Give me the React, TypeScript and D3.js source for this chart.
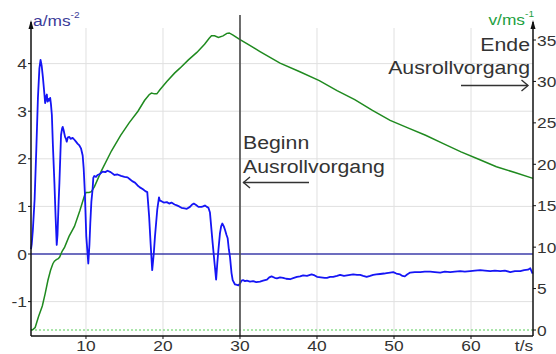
import React from 'react';
import * as d3 from 'd3';

// acceleration a (m/s²) over time t (s)
const accT = [2.86, 2.95, 3.1, 3.33, 3.55, 3.76, 3.95, 4.1, 4.25, 4.4, 4.55, 4.7, 4.8, 4.92, 5.0, 5.1, 5.2, 5.35, 5.45, 5.57, 5.7, 5.9, 6.05, 6.2, 6.3, 6.45, 6.55, 6.76, 6.9, 6.98, 7.1, 7.28, 7.4, 7.5, 7.65, 7.84, 8.0, 8.27, 8.5, 8.7, 8.9, 9.14, 9.35, 9.57, 9.7, 9.85, 10.04, 10.3, 10.45, 10.56, 10.7, 10.86, 10.95, 11.08, 11.3, 11.5, 11.8, 12.15, 12.5, 12.8, 13.2, 13.7, 14.1, 14.55, 15.0, 15.4, 15.7, 16.0, 16.36, 16.7, 17.0, 17.4, 17.7, 17.96, 18.2, 18.4, 18.6, 18.8, 18.96, 19.26, 19.48, 19.6, 19.8, 20.1, 20.5, 20.8, 21.1, 21.5, 21.8, 22.1, 22.4, 22.8, 23.1, 23.5, 23.8, 24.0, 24.3, 24.6, 25.0, 25.2, 25.45, 25.7, 25.9, 26.1, 26.45, 26.7, 26.9, 27.05, 27.2, 27.4, 27.55, 27.7, 27.9, 28.05, 28.25, 28.4, 28.55, 28.7, 28.9, 29.05, 29.35, 29.6, 29.8, 30.0, 30.2, 30.4, 30.65, 30.9, 31.3, 31.7, 32.1, 32.6, 33.0, 33.5, 33.8, 34.1, 34.5, 34.8, 35.2, 35.6, 36.0, 36.5, 37.0, 37.4, 37.8, 38.2, 38.7, 39.3, 39.7, 40.0, 40.5, 41.0, 41.3, 41.7, 42.1, 42.6, 43.0, 43.5, 43.9, 44.3, 44.7, 45.2, 45.6, 46.0, 46.45, 46.9, 47.3, 47.7, 48.2, 48.7, 49.05, 49.5, 49.9, 50.3, 50.8, 51.1, 51.4, 51.7, 52.1, 52.7, 53.4, 54.0, 54.7, 55.3, 56.0, 56.6, 57.3, 57.9, 58.6, 59.2, 59.9, 60.5, 61.2, 61.8, 62.5, 63.1, 63.8, 64.4, 65.1, 65.7, 66.4, 66.9, 67.4, 67.7, 68.0];
const accA = [0.1, 0.2, 0.5, 1.15, 2.2, 3.28, 3.9, 4.08, 3.95, 3.72, 3.45, 3.17, 3.3, 3.35, 3.2, 3.26, 3.22, 3.28, 3.15, 2.92, 2.3, 1.5, 0.8, 0.19, 0.4, 1.1, 1.5, 2.5, 2.64, 2.67, 2.6, 2.46, 2.42, 2.36, 2.45, 2.46, 2.42, 2.44, 2.4, 2.36, 2.32, 2.28, 2.22, 2.07, 1.8, 1.3, 0.37, -0.2, 0.2, 0.65, 1.1, 1.36, 1.6, 1.64, 1.62, 1.66, 1.68, 1.73, 1.72, 1.75, 1.72, 1.66, 1.67, 1.64, 1.62, 1.61, 1.57, 1.53, 1.5, 1.44, 1.4, 1.36, 1.32, 1.3, 0.79, 0.2, -0.34, 0.0, 0.37, 0.94, 1.19, 1.12, 1.11, 1.08, 1.09, 1.06, 1.08, 1.04, 1.02, 1.0, 0.97, 0.96, 0.95, 0.99, 1.04, 1.06, 1.03, 0.99, 0.99, 1.0, 1.02, 0.99, 0.97, 0.87, 0.23, -0.2, -0.54, -0.2, 0.09, 0.44, 0.58, 0.64, 0.58, 0.51, 0.4, 0.33, 0.1, -0.06, -0.4, -0.55, -0.64, -0.65, -0.66, -0.62, -0.56, -0.55, -0.57, -0.56, -0.58, -0.57, -0.59, -0.58, -0.56, -0.54, -0.49, -0.47, -0.5, -0.51, -0.49, -0.5, -0.52, -0.53, -0.5, -0.48, -0.47, -0.45, -0.46, -0.43, -0.45, -0.48, -0.49, -0.5, -0.5, -0.48, -0.48, -0.46, -0.44, -0.46, -0.45, -0.44, -0.43, -0.44, -0.44, -0.46, -0.48, -0.46, -0.44, -0.43, -0.42, -0.41, -0.4, -0.39, -0.38, -0.41, -0.43, -0.46, -0.47, -0.43, -0.39, -0.38, -0.38, -0.37, -0.37, -0.38, -0.39, -0.37, -0.38, -0.37, -0.36, -0.37, -0.36, -0.35, -0.34, -0.35, -0.36, -0.35, -0.36, -0.35, -0.38, -0.36, -0.36, -0.34, -0.33, -0.3, -0.41];

// velocity v (m/s) over time t (s)
const velT = [2.86, 3.1, 3.4, 3.83, 4.33, 4.7, 5.06, 5.4, 5.7, 5.9, 6.15, 6.4, 6.58, 6.9, 7.23, 7.8, 8.5, 9.2, 9.8, 10.0, 10.4, 10.7, 11.1, 12.0, 13.3, 14.5, 15.6, 16.75, 17.6, 18.2, 18.5, 18.9, 19.2, 19.6, 20.5, 21.5, 22.2, 23.3, 24.4, 25.4, 26.0, 26.3, 26.7, 27.2, 27.8, 28.3, 28.6, 29.1, 29.9, 31.0, 32.6, 35.2, 37.7, 40.3, 42.6, 44.9, 47.2, 49.5, 51.8, 54.1, 56.4, 58.7, 61.0, 63.3, 65.7, 68.05];
const velV = [0, 0.05, 0.3, 1.6, 2.9, 4.4, 6.0, 7.2, 8.0, 8.3, 8.5, 8.6, 8.8, 9.5, 10.0, 11.3, 12.5, 14.4, 16.2, 16.6, 16.6, 16.7, 17.3, 19.2, 21.6, 23.5, 25.0, 26.4, 27.7, 28.4, 28.6, 28.5, 28.5, 29.0, 30.0, 31.0, 31.6, 32.6, 33.5, 34.5, 35.2, 35.5, 35.5, 35.3, 35.5, 35.8, 35.85, 35.6, 35.1, 34.5, 33.6, 32.2, 31.2, 30.1, 28.9, 27.8, 26.5, 25.3, 24.4, 23.5, 22.5, 21.5, 20.6, 19.7, 19.0, 18.3];

const tTicks = [10, 20, 30, 40, 50, 60];
const aTicks = [-1, 0, 1, 2, 3, 4];
const vTicks = [0, 5, 10, 15, 20, 25, 30, 35];
const tMarker = 30;

const W = 556, H = 354;
const left = 31, right = 533, top = 28, bottom = 336;
const SX = 1.12;
const FONT = '"Liberation Sans", Arial, sans-serif';

const x = d3.scaleLinear().domain([2.86, 68.05]).range([left, right]);
const yA = d3.scaleLinear().domain([0, 4]).range([254, 63.6]);
const yV = d3.scaleLinear().domain([0, 35]).range([330, 40]);

const T = ({ x: tx, y: ty, size, anchor = 'start', fill = '#333', children }: any) => (
  <text transform={`translate(${tx},${ty}) scale(${SX},1)`} fontSize={size} textAnchor={anchor} fill={fill} fontFamily={FONT}>
    {children}
  </text>
);

const App = () => {
  const accLine = d3.line<number>().x((d, i) => x(accT[i])).y(d => yA(d));
  const velLine = d3.line<number>().x((d, i) => x(velT[i])).y(d => yV(d));

  return (
    <svg width={W} height={H} style={{ position: 'absolute', left: 0, top: 0, background: '#fff' }}>
      {/* grid */}
      {tTicks.map(t => (
        <line key={'gx' + t} x1={x(t)} x2={x(t)} y1={top} y2={bottom} stroke="#e0e0e0" strokeWidth={1} />
      ))}
      {aTicks.filter(a => a !== 0).map(a => (
        <line key={'gy' + a} x1={left} x2={right} y1={yA(a)} y2={yA(a)} stroke="#e0e0e0" strokeWidth={1} />
      ))}

      {/* v = 0 dotted line */}
      <line x1={left} x2={right} y1={yV(0)} y2={yV(0)} stroke="#55cc55" strokeWidth={1} strokeDasharray="2,2" />
      {/* a = 0 line */}
      <line x1={left} x2={right} y1={yA(0)} y2={yA(0)} stroke="#3c3caa" strokeWidth={1.5} />

      {/* curves */}
      <path d={velLine(velV) || ''} fill="none" stroke="#1f8a1f" strokeWidth={1.5} />
      <path d={accLine(accA) || ''} fill="none" stroke="#1515f5" strokeWidth={1.8} strokeLinejoin="round" />

      {/* marker line at t = 30 */}
      <line x1={x(tMarker)} x2={x(tMarker)} y1={15} y2={bottom} stroke="#4a4a4a" strokeWidth={1.6} />

      {/* axes */}
      <line x1={left} x2={right} y1={bottom} y2={bottom} stroke="#111" strokeWidth={1.5} />
      <line x1={left} x2={left} y1={bottom} y2={22} stroke="#111" strokeWidth={1.5} />
      <line x1={right} x2={right} y1={bottom} y2={22} stroke="#111" strokeWidth={1.5} />
      <path d={`M${left - 2.5},29 L${left},20 L${left + 2.5},29 Z`} fill="#111" />
      <path d={`M${right - 2.5},29 L${right},20 L${right + 2.5},29 Z`} fill="#111" />

      {aTicks.map(a => (
        <g key={'a' + a}>
          <line x1={left - 3} x2={left} y1={yA(a)} y2={yA(a)} stroke="#111" />
          <T x={27} y={yA(a) + 5.5} size={15.5} anchor="end">{a}</T>
        </g>
      ))}
      {vTicks.map(v => (
        <g key={'v' + v}>
          <line x1={right} x2={right + 3} y1={yV(v)} y2={yV(v)} stroke="#111" />
          <T x={537} y={yV(v) + 5.5} size={15.5}>{v}</T>
        </g>
      ))}
      {tTicks.map(t => (
        <g key={'t' + t}>
          <line x1={x(t)} x2={x(t)} y1={bottom} y2={bottom + 3} stroke="#111" />
          <T x={x(t)} y={350.5} size={15.5} anchor="middle">{t}</T>
        </g>
      ))}
      <T x={524} y={350.5} size={15.5} anchor="middle">t/s</T>

      {/* axis titles */}
      <T x={33} y={26} size={15.5} fill="#3b3b98">
        a/ms<tspan fontSize={9} dy={-8}>-2</tspan>
      </T>
      <T x={534} y={25} size={15.5} anchor="end" fill="#22a040">
        v/ms<tspan fontSize={9} dy={-8}>-1</tspan>
      </T>

      {/* annotations */}
      <T x={243} y={148.5} size={19}>Beginn</T>
      <T x={243} y={172.5} size={19}>Ausrollvorgang</T>
      <line x1={243} x2={309} y1={182.5} y2={182.5} stroke="#333" strokeWidth={1.4} />
      <path d="M250,177 L243.5,182.5 L250,188" fill="none" stroke="#333" strokeWidth={1.4} />

      <T x={530} y={50.5} size={19} anchor="end">Ende</T>
      <T x={530} y={74} size={19} anchor="end">Ausrollvorgang</T>
      <line x1={461} x2={528} y1={85.5} y2={85.5} stroke="#333" strokeWidth={1.4} />
      <path d="M521.5,80 L528,85.5 L521.5,91" fill="none" stroke="#333" strokeWidth={1.4} />
    </svg>
  );
};

export default App;
